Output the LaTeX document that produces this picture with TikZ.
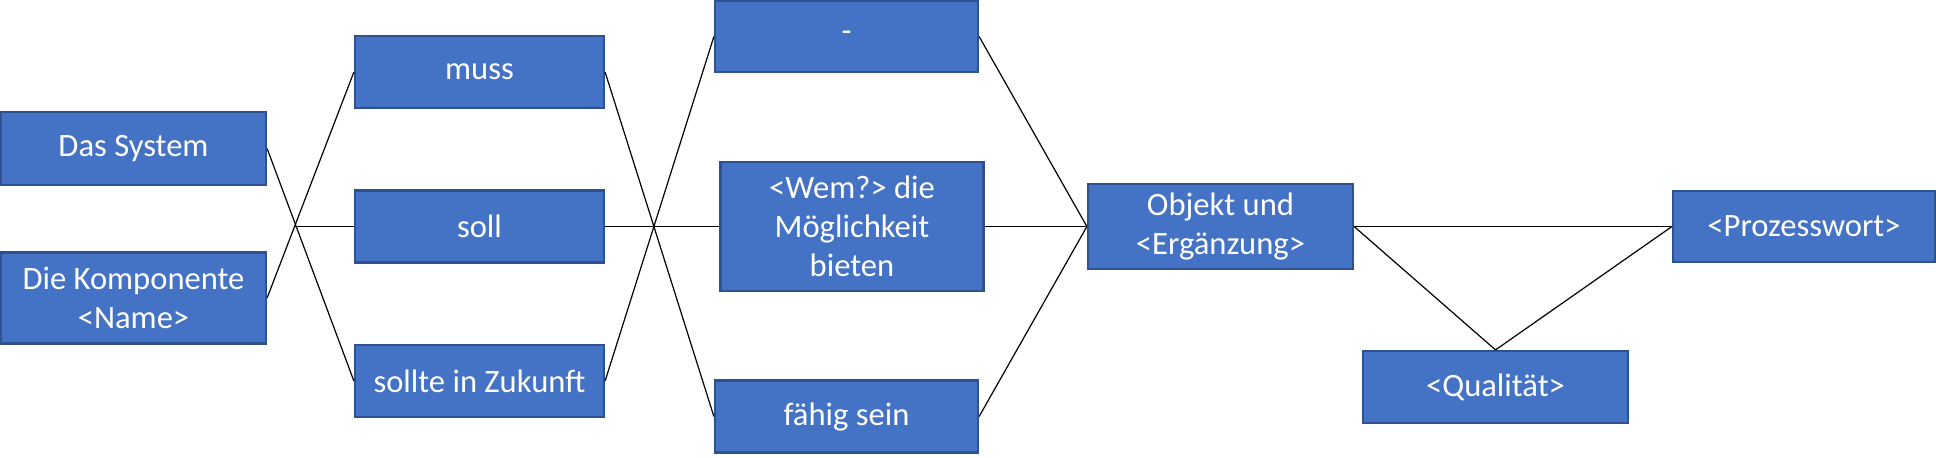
\documentclass[tikz,border=0pt]{standalone}
\usepackage{fontspec}
\setmainfont{Carlito}
\definecolor{boxfill}{HTML}{4472C4}
\definecolor{boxline}{HTML}{2F528F}
\begin{document}
\begin{tikzpicture}[x=0.5pt,y=-0.5pt,
  box/.style={draw=boxline, fill=boxfill, line width=1.1pt, text=white, align=center, inner sep=0pt, font=\fontsize{16.3}{19.5}\selectfont},
  conn/.style={draw=black, line width=0.6pt}]
\useasboundingbox (0,0) rectangle (1936,457);
\node[box, minimum width=132.5pt, minimum height=36.5pt] (sys) at (133.5,148.5) {Das System};
\node[box, minimum width=132.5pt, minimum height=45.5pt] (komp) at (133.5,298) {Die Komponente\\<Name>};
\node[box, minimum width=124.5pt, minimum height=36pt] (muss) at (479.5,72) {muss};
\node[box, minimum width=124.5pt, minimum height=36pt] (soll) at (479.5,226.5) {soll};
\node[box, minimum width=124.5pt, minimum height=36pt] (sollte) at (479.5,381) {sollte in Zukunft};
\node[box, minimum width=131.5pt, minimum height=35.5pt] (dash) at (846.5,36.5) {-};
\node[box, minimum width=131.5pt, minimum height=64.5pt] (wem) at (852,226.5) {<Wem?> die\\Möglichkeit\\bieten};
\node[box, minimum width=131.5pt, minimum height=36pt] (faehig) at (846.5,416.5) {fähig sein};
\node[box, minimum width=132.5pt, minimum height=42.5pt] (obj) at (1220.5,226.5) {Objekt und\\<Ergänzung>};
\node[box, minimum width=132.5pt, minimum height=36pt] (qual) at (1495.5,387) {<Qualität>};
\node[box, minimum width=131pt, minimum height=35.5pt] (proz) at (1804,226.5) {<Prozesswort>};
\coordinate (xa) at (intersection of sys.east--sollte.west and komp.east--muss.west);
\draw[conn] (sys.east) -- (sollte.west);
\draw[conn] (komp.east) -- (muss.west);
\draw[conn] (soll.west) -- (xa |- soll.west);
\draw[conn] (muss.east) -- (faehig.west);
\draw[conn] (sollte.east) -- (dash.west);
\draw[conn] (soll.east) -- (wem.west);
\draw[conn] (dash.east) -- (obj.west);
\draw[conn] (wem.east) -- (obj.west);
\draw[conn] (faehig.east) -- (obj.west);
\draw[conn] (obj.east) -- (proz.west);
\draw[conn] (obj.east) -- (qual.north);
\draw[conn] (qual.north) -- (proz.west);
\end{tikzpicture}
\end{document}
